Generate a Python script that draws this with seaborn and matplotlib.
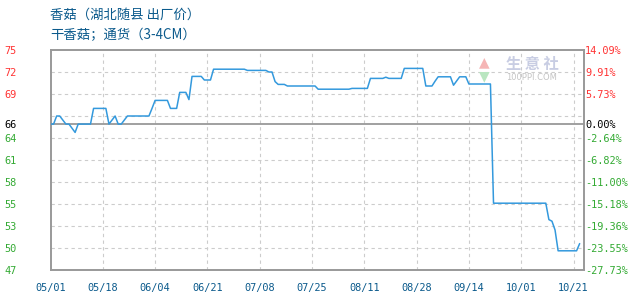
import matplotlib
matplotlib.use("Agg")
import matplotlib.pyplot as plt
import seaborn as sns
import pandas as pd

# ---- data ----
dates = ["2023-05-01", "2023-05-02", "2023-05-03", "2023-05-04", "2023-05-06", "2023-05-07",
         "2023-05-09", "2023-05-10", "2023-05-14", "2023-05-15", "2023-05-19", "2023-05-20",
         "2023-05-22", "2023-05-23", "2023-05-24", "2023-05-26", "2023-06-02", "2023-06-03",
         "2023-06-04", "2023-06-08", "2023-06-09", "2023-06-11", "2023-06-12", "2023-06-14",
         "2023-06-15", "2023-06-16", "2023-06-19", "2023-06-20", "2023-06-22", "2023-06-23",
         "2023-07-03", "2023-07-04", "2023-07-10", "2023-07-11", "2023-07-12", "2023-07-13",
         "2023-07-14", "2023-07-16", "2023-07-17", "2023-07-26", "2023-07-27", "2023-08-06",
         "2023-08-07", "2023-08-12", "2023-08-13", "2023-08-17", "2023-08-18", "2023-08-19",
         "2023-08-23", "2023-08-24", "2023-08-30", "2023-08-31", "2023-09-02", "2023-09-03",
         "2023-09-04", "2023-09-08", "2023-09-09", "2023-09-11", "2023-09-13", "2023-09-14",
         "2023-09-21", "2023-09-22", "2023-10-09", "2023-10-10", "2023-10-11", "2023-10-12",
         "2023-10-13", "2023-10-19", "2023-10-20"]
prices = [65.74, 65.74, 66.75, 66.75, 65.74, 65.74,
          64.70, 65.74, 65.74, 67.70, 67.70, 65.74,
          66.75, 65.74, 65.74, 66.75, 66.75, 67.70,
          68.70, 68.70, 67.70, 67.70, 69.70, 69.70,
          68.80, 71.70, 71.70, 71.25, 71.25, 72.60,
          72.60, 72.45, 72.45, 72.25, 72.25, 71.05,
          70.70, 70.70, 70.50, 70.50, 70.10, 70.10,
          70.20, 70.20, 71.45, 71.45, 71.60, 71.45,
          71.45, 72.70, 72.70, 70.50, 70.50, 71.10,
          71.65, 71.65, 70.60, 71.65, 71.65, 70.75,
          70.75, 55.85, 55.85, 53.80, 53.60, 52.50,
          49.90, 49.90, 50.80]

base_price = 65.74
ytick_values = [75.0, 72.25, 69.5, 65.74, 64.0, 61.25, 58.5, 55.75, 53.0, 50.25, 47.5]
ytick_left_labels = ["75", "72", "69", "66", "64", "61", "58", "55", "53", "50", "47"]
ytick_right_labels = ["14.09%", "9.91%", "5.73%", "0.00%", "-2.64%", "-6.82%", "-11.00%",
                      "-15.18%", "-19.36%", "-23.55%", "-27.73%"]
extra_grid = [66.75]
xtick_dates = ["2023-05-01", "2023-05-18", "2023-06-04", "2023-06-21", "2023-07-08",
               "2023-07-25", "2023-08-11", "2023-08-28", "2023-09-14", "2023-10-01",
               "2023-10-18"]
xtick_labels = ["05/01", "05/18", "06/04", "06/21", "07/08", "07/25", "08/11", "08/28",
                "09/14", "10/01", "10/21"]
title1 = "香菇（湖北随县 出厂价）"
title2 = "干香菇；通货（3-4CM）"

df = pd.DataFrame({"date": pd.to_datetime(dates), "price": prices})

# ---- style ----
sns.set_style("white")
plt.rcParams["font.family"] = ["DejaVu Sans Mono", "Noto Sans CJK SC"]

RED = "#ff3333"
GREEN = "#33aa33"
BLUE_TXT = "#0b5a8c"
GRID = "#cccccc"
FRAME = "#999999"
TICK_FS = 7.4

fig = plt.figure(figsize=(6.3, 3.0), dpi=100)
ax = fig.add_axes([50.5 / 630, 30 / 300, 533 / 630, 220 / 300])

sns.lineplot(data=df, x="date", y="price", ax=ax, color="#3399dd", linewidth=1.1, zorder=5)

ax.set_xlim(pd.Timestamp("2023-05-01"), pd.Timestamp("2023-10-21 06:00"))
ax.set_ylim(47.5, 75.0)
ax.set_xlabel("")
ax.set_ylabel("")

# grid lines
for yv in ytick_values + extra_grid:
    if yv == base_price:
        ax.axhline(yv, color=FRAME, lw=1.3, zorder=3)
    elif 47.5 < yv < 75.0:
        ax.axhline(yv, color=GRID, lw=0.8, ls=(0, (3, 3)), zorder=1)
for xd in xtick_dates[1:]:
    ax.axvline(pd.Timestamp(xd), color=GRID, lw=0.8, ls=(0, (3, 3)), zorder=1)

for sp in ax.spines.values():
    sp.set_color(FRAME)
    sp.set_linewidth(1.4)

# x ticks
ax.set_xticks([pd.Timestamp(d) for d in xtick_dates])
ax.set_xticklabels(xtick_labels)
ax.tick_params(axis="x", length=0, pad=9, labelsize=TICK_FS, labelcolor=BLUE_TXT)

# left y ticks
ax.set_yticks(ytick_values)
ax.set_yticklabels(ytick_left_labels)
ax.tick_params(axis="y", length=0, pad=33, labelsize=TICK_FS)
for lab, yv in zip(ax.get_yticklabels(), ytick_values):
    lab.set_horizontalalignment("left")
    lab.set_color("black" if yv == base_price else (RED if yv > base_price else GREEN))

# right y ticks
ax2 = ax.twinx()
ax2.set_ylim(ax.get_ylim())
ax2.set_yticks(ytick_values)
ax2.set_yticklabels(ytick_right_labels)
ax2.tick_params(axis="y", length=0, pad=1, labelsize=TICK_FS)
for sp in ax2.spines.values():
    sp.set_visible(False)
for lab, yv in zip(ax2.get_yticklabels(), ytick_values):
    lab.set_color("black" if yv == base_price else (RED if yv > base_price else GREEN))

# titles
fig.text(50 / 630, 1 - 15 / 300, title1, color=BLUE_TXT, fontsize=9.6,
         family=["Noto Sans CJK SC", "DejaVu Sans"], va="center", ha="left")
fig.text(50 / 630, 1 - 35 / 300, title2, color=BLUE_TXT, fontsize=9.6,
         family=["Noto Sans CJK SC", "DejaVu Sans"], va="center", ha="left")

# watermark
fig.text(532 / 630, 1 - 64 / 300, "生 意 社", color="#c8cde3", fontsize=11,
         family=["Noto Sans CJK SC", "DejaVu Sans"], va="center", ha="center", weight="bold")
fig.text(532 / 630, 1 - 78 / 300, "100PPI.COM", color="#c4c4c4", fontsize=6,
         family=["DejaVu Sans"], va="center", ha="center")
fig.text(484 / 630, 1 - 62 / 300, "▲", color="#f5b5b5", fontsize=10,
         family=["DejaVu Sans"], va="center", ha="center")
fig.text(484 / 630, 1 - 76 / 300, "▼", color="#b9e6c0", fontsize=10,
         family=["DejaVu Sans"], va="center", ha="center")

fig.savefig("out.png", dpi=100)
